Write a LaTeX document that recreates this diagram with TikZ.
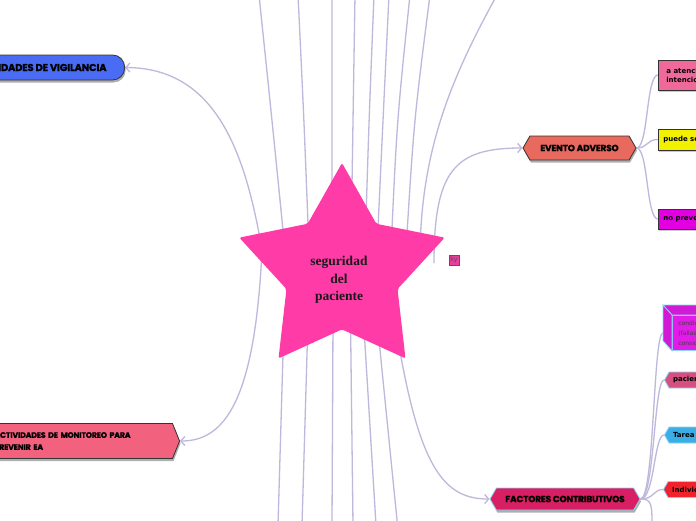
\documentclass[tikz,border=0pt]{standalone}
\usepackage{fontspec}
\setmainfont{Liberation Serif}
\newfontfamily\capsfont[LetterSpace=-2,BoldFeatures={FakeBold=1.2}]{Poppins}
\newfontfamily\boxfont{DejaVu Sans}
\usetikzlibrary{arrows.meta,shapes.geometric,shapes.symbols,shadows,backgrounds}
\definecolor{Lavender}{HTML}{BDB8DC}
\definecolor{StarPink}{HTML}{FF3BA7}
\definecolor{VigBlue}{HTML}{4A6CF5}
\definecolor{MonPink}{HTML}{F2617E}
\definecolor{EvSalmon}{HTML}{E8695E}
\definecolor{FacRed}{HTML}{D81F63}
\definecolor{BoxPink}{HTML}{EF6A9A}
\definecolor{BoxYellow}{HTML}{F2F200}
\definecolor{BoxMagenta}{HTML}{E200E2}
\definecolor{CubeMagenta}{HTML}{E21CE8}
\definecolor{PacRose}{HTML}{D6507F}
\definecolor{TarBlue}{HTML}{3BAEE5}
\definecolor{IndRed}{HTML}{F2222C}
\definecolor{EdgeBlue}{HTML}{8FD3F5}
\definecolor{EdgeDark}{HTML}{333333}
\definecolor{KyPink}{HTML}{EE3B9E}
\begin{document}
\begin{tikzpicture}[x=1pt,y=-1pt,>={Straight Barb[length=4pt,width=9pt]},
conn/.style={draw=Lavender,line width=1.3pt},
topic/.style={font=\capsfont\bfseries\fontsize{9}{10}\selectfont,draw=EdgeDark,line width=.8pt,drop shadow={shadow xshift=1pt,shadow yshift=-2.5pt,fill=black!45,opacity=.7}},
hexa/.style={signal,signal to=west and east,signal pointer angle=120,inner xsep=2pt},
leaf/.style={font=\boxfont\bfseries\fontsize{7}{9}\selectfont,draw=EdgeDark,line width=.6pt,anchor=west,align=left,inner xsep=5pt,minimum width=60,drop shadow={shadow xshift=.8pt,shadow yshift=-1.5pt,fill=black!35,opacity=.6}},
facleaf/.style={signal,signal to=west,signal pointer angle=120,anchor=west,font=\boxfont\bfseries\fontsize{7}{8}\selectfont,draw=EdgeBlue,line width=.8pt,minimum height=16,inner xsep=4pt}]
\useasboundingbox(0,0)rectangle(696,520);\clip(0,0)rectangle(696,520);
% centre
\node[star,star points=5,star point ratio=1.85,minimum size=216,inner sep=0,fill=StarPink,rounded corners=2pt](ctr)at(342,271){};
\node[font=\bfseries\fontsize{13.5}{17.5}\selectfont,align=center,text=black!90](ctrlbl)at(339,280){seguridad\\del\\paciente};
\node[fill=KyPink,draw=KyPink!70!black,line width=.3pt,minimum size=10,inner sep=.5pt,font=\boxfont\fontsize{6.5}{7}\selectfont,text=black!70](ky)at(454,260){ky};
% main topics
\node[topic,rounded corners=12pt,fill=VigBlue,minimum height=25,inner xsep=18pt,anchor=east,font=\capsfont\bfseries\fontsize{10}{11}\selectfont](vig)at(125,67.5){ACTIVIDADES DE VIGILANCIA};
\node[topic,signal,signal to=east,signal pointer angle=136,fill=MonPink,minimum height=35,text width=175,align=left,inner xsep=3pt,anchor=east,font=\capsfont\bfseries\fontsize{7.8}{12}\selectfont](mon)at(180,441){ACTIVIDADES DE MONITOREO PARA\\PREVENIR EA};
\node[topic,hexa,fill=EvSalmon,minimum width=113,minimum height=24](ev)at(579.5,148){EVENTO ADVERSO};
\node[topic,hexa,fill=FacRed,draw=EdgeBlue,minimum width=150,minimum height=22](fac)at(565,499){FACTORES CONTRIBUTIVOS};
% evento adverso
\node[leaf,fill=BoxPink,minimum height=30](aat)at(658,75){a atención\\intencional};
\node[leaf,fill=BoxYellow,minimum height=21](pue)at(658,139.5){puede ser prevenible};
\node[leaf,fill=BoxMagenta,minimum height=20](nop)at(658,219){no prevenible};
% factores
\node[draw=EdgeBlue,line width=.8pt,fill=CubeMagenta,anchor=north west,minimum width=60,minimum height=35,align=left,inner xsep=6pt,font=\boxfont\fontsize{6}{10}\selectfont,text=black!75](cond)at(672,315){condiciones\\(fallas de diseño\\consideradas};
\filldraw[draw=EdgeBlue,line width=.8pt,fill=CubeMagenta!92!black](cond.north west)--++(-9,-10)--++(60,0)--(cond.north east)--cycle;
\filldraw[draw=EdgeBlue,line width=.8pt,fill=CubeMagenta!92!black](cond.north west)--++(-9,-10)--([shift={(-9,-10)}]cond.south west)--(cond.south west)--cycle;
\node[facleaf,fill=PacRose](pac)at(664,380){paciente};
\node[facleaf,fill=TarBlue](tar)at(664,435){Tarea y tecnología};
\node[facleaf,fill=IndRed](ind)at(663,489.5){Individuo};
\coordinate(facdown)at(652,530);
\begin{scope}[on background layer]
\fill[white](0,0)rectangle(696,520);
\foreach \xs/\xc/\xt in {285/272/259,309/304/298,332/332/332,351/353/355,365/369/374,377/383/389,391/397/410,406/414/430}{\draw[conn](ctr.center)--(\xs,250)..controls(\xc,120)..(\xt,-5);}
\draw[conn](ctr.center)--(420,250)..controls(422,150)and(450,80)..(497,-5);
\foreach \xs/\xb in {284/278,308/302,333/332,350.5/353,363.5/376,377/397.5}{\draw[conn](ctr.center)--(\xs,320)--(\xb,525);}
\draw[conn,->](ctr.center)--(262,250)..controls(245,150)and(215,68)..(vig.east);
\draw[conn,->](ctr.center)--(262,250)..controls(255,400)and(225,441)..(mon.east);
\draw[conn,->]([shift={(92,-8)}]ctr.center)..controls(434,170)and(455,148)..(ev.west);
\draw[conn,->](ctr.center)--(398,340)..controls(420,470)and(445,499)..(fac.west);
\foreach \n in {aat,pue,nop}{\draw[conn](ev.east)..controls+(12,0)and+(-12,0)..(\n.west);}
\draw[conn](fac.east)..controls+(14,0)and+(-10,0)..([xshift=-9pt]cond.west);
\foreach \n in {pac,tar,ind}{\draw[conn](fac.east)..controls+(14,0)and+(-10,0)..(\n.west);}
\draw[conn](fac.east)..controls+(12,0)and(652,505)..(facdown);
\end{scope}
\end{tikzpicture}
\end{document}
